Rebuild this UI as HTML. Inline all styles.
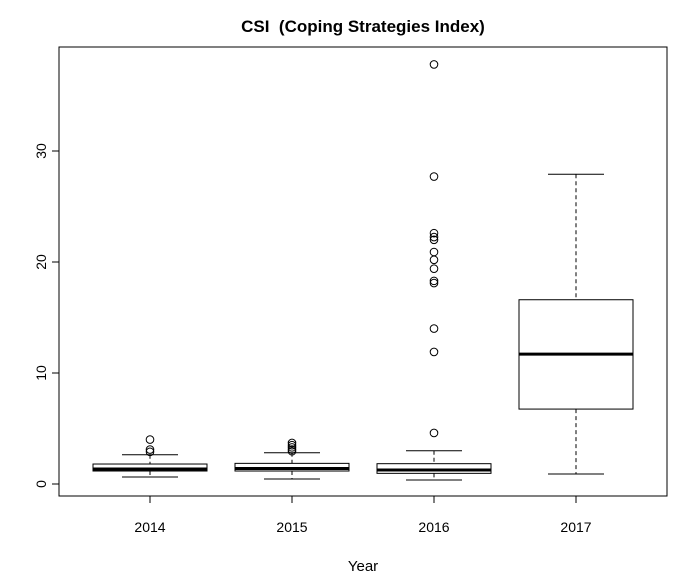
<!DOCTYPE html>
<html><head><meta charset="utf-8"><style>body{margin:0;background:#fff}svg{display:block;font-family:"Liberation Sans",sans-serif}</style></head>
<body>
<svg id="c" width="688" height="583"></svg>
<script>
const categories=["2014","2015","2016","2017"];
const q1=[1.17,1.17,0.96,6.75];
const medians=[1.35,1.4,1.26,11.7];
const q3=[1.8,1.86,1.83,16.6];
const whiskLo=[0.63,0.45,0.36,0.9];
const whiskHi=[2.64,2.82,3.0,27.9];
const outliers=[[4.0,3.1,2.9],[3.7,3.5,3.3,3.1,2.95],[4.6,11.9,14,18.1,18.3,19.4,20.2,20.9,22,22.25,22.6,27.7,37.8],[]];
const yTicks=[0,10,20,30];
const NS="http://www.w3.org/2000/svg",svg=document.getElementById('c');
const L=59,R=667,T=47,B=496;
const y=v=>484-v*11.1;
const x=i=>150+i*142;
function mk(t,a,p){const e=document.createElementNS(NS,t);for(const k in a)e.setAttribute(k,a[k]);(p||svg).appendChild(e);return e;}
let e;
e=mk('rect',{x:L,y:T,width:R-L,height:B-T,fill:'none',stroke:'#000'});


e=mk('text',{x:363,y:32,'text-anchor':'middle','font-size':17,'font-weight':'bold',style:'white-space:pre'});e.textContent='CSI  (Coping Strategies Index)';


e=mk('text',{x:363,y:571,'text-anchor':'middle','font-size':15});e.textContent='Year';


yTicks.forEach(t=>{mk('line',{x1:L,x2:L-7,y1:y(t),y2:y(t),stroke:'#000'});
e=mk('text',{x:46,y:y(t),'text-anchor':'middle','font-size':14,transform:`rotate(-90 46 ${y(t)})`});e.textContent=t;

});
mk('line',{x1:L,x2:L,y1:y(0),y2:y(30),stroke:'#000'});
categories.forEach((c,i)=>{const cx=x(i);
mk('line',{x1:cx,x2:cx,y1:B,y2:B+7,stroke:'#000'});
e=mk('text',{x:cx,y:532,'text-anchor':'middle','font-size':14});e.textContent=c;


const g=mk('g',{});


mk('line',{x1:cx,x2:cx,y1:y(whiskHi[i]),y2:y(q3[i]),stroke:'#000','stroke-dasharray':'4,3'},g);
mk('line',{x1:cx,x2:cx,y1:y(q1[i]),y2:y(whiskLo[i]),stroke:'#000','stroke-dasharray':'4,3'},g);
mk('line',{x1:cx-28,x2:cx+28,y1:y(whiskHi[i]),y2:y(whiskHi[i]),stroke:'#000'},g);
mk('line',{x1:cx-28,x2:cx+28,y1:y(whiskLo[i]),y2:y(whiskLo[i]),stroke:'#000'},g);
mk('rect',{x:cx-57,y:y(q3[i]),width:114,height:y(q1[i])-y(q3[i]),fill:'#fff',stroke:'#000'},g);
mk('line',{x1:cx-57,x2:cx+57,y1:y(medians[i]),y2:y(medians[i]),stroke:'#000','stroke-width':3},g);
outliers[i].forEach(v=>{mk('circle',{cx:cx,cy:y(v),r:3.8,fill:'none',stroke:'#000'},g);});
});
</script>
</body></html>
